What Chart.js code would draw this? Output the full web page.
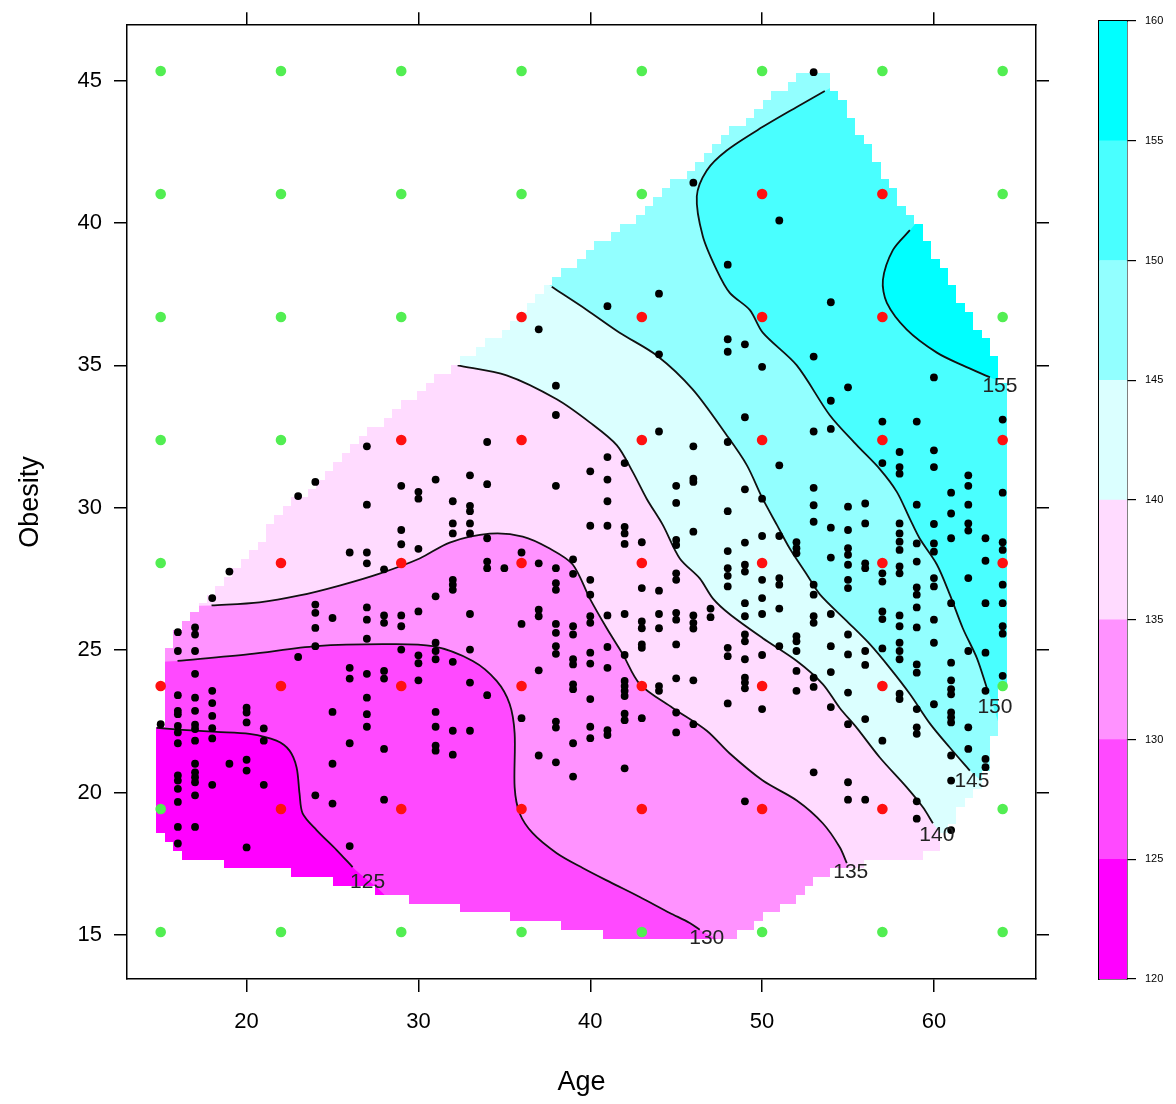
<!DOCTYPE html>
<html><head><meta charset="utf-8">
<script src="https://cdn.jsdelivr.net/npm/chart.js@4.4.1/dist/chart.umd.min.js"></script>
<style>
html,body{margin:0;padding:0;background:#fff;}
#wrap{position:relative;width:1176px;height:1104px;overflow:hidden;}
#main{position:absolute;left:0;top:0;width:1176px;height:1104px;}
#bar{position:absolute;left:1085px;top:0;width:91px;height:1104px;}
</style></head><body>
<div id="wrap"><canvas id="main" width="1176" height="1104"></canvas><canvas id="bar" width="91" height="1104"></canvas></div>
<script>
const FONT = "'Liberation Sans', Arial, Helvetica, sans-serif";
// axes
const xRange = [13.04, 65.94];
const yRange = [13.45, 46.95];
const xTicks = [20, 30, 40, 50, 60];
const yTicks = [15, 20, 25, 30, 35, 40, 45];
// colour key
const barTicks = [120, 125, 130, 135, 140, 145, 150, 155, 160];
const bandColors = ['#FF00FF', '#FF49FF', '#FF92FF', '#FFDBFF', '#DBFFFF', '#92FFFF', '#49FFFF', '#00FFFF'];
const levels = [125, 130, 135, 140, 145, 150, 155];
// evaluation grid
const gridAges = [15, 22, 29, 36, 43, 50, 57, 64];
const gridObes = [15.1, 19.42, 23.74, 28.06, 32.38, 36.7, 41.02, 45.34];
const gridInside = [
  [0,0,0,0,0,0,0,0],
  [0,1,1,1,1,1,1,0],
  [1,1,1,1,1,1,1,0],
  [0,1,1,1,1,1,1,1],
  [0,0,1,1,1,1,1,1],
  [0,0,0,1,1,1,1,0],
  [0,0,0,0,0,1,1,0],
  [0,0,0,0,0,0,0,0]
];
// raster of the fitted surface
const cellX0 = 15, cellDX = 0.49, cellNX = 101;
const cellY0 = 14.7, cellDY = 0.3102;
// convex hull of the observations
const hullAge = [53.0,53.77,55.28,57.26,58.77,60.35,61.68,62.68,63.66,64.01,64.01,63.6,63.14,62.27,61.68,60.17,58.77,56.27,53.94,51.61,49.86,48.7,46.0,42.88,39.97,34.73,30.07,25.99,21.92,19.59,16.68,15.51,14.99,14.99,15.22,15.69,17.67,21.16,25.24,27.74,31.06,34.73,37.47,42.88,47.95,50.45];
const hullObes = [45.45,45.13,43.59,41.46,40.17,38.6,37.09,36.15,35.21,34.3,24.0,22.1,21.02,19.83,19.48,18.08,17.7,17.56,17.21,16.12,15.53,15.0,14.83,14.76,15.11,15.7,16.16,16.75,17.28,17.42,17.7,18.15,18.67,22.27,24.62,25.67,26.71,29.16,31.71,33.0,34.51,36.15,37.85,40.3,43.05,44.4];
// contour lines
const contour125 = [[14.76,22.27],[16.27,22.2],[18.25,22.13],[20.17,22.06],[21.74,21.82],[22.5,21.47],[22.91,20.88],[23.08,19.97],[23.26,19.27],[24.07,18.68],[25.24,17.98],[26.17,17.38]];
const contour130 = [[15.98,24.62],[20.17,24.86],[24.07,25.14],[27.92,25.21],[30.83,25.14],[33.16,24.62],[34.55,23.92],[35.31,23.11],[35.6,22.07],[35.6,20.18],[35.89,19.27],[36.65,18.57],[38.05,17.87],[39.56,17.35],[41.13,16.86],[42.88,16.33],[44.63,15.77],[45.79,15.42],[46.37,15.18]];
const contour135 = [[17.96,26.57],[20.75,26.68],[23.08,26.92],[25.41,27.27],[27.74,27.69],[30.07,28.22],[31.82,28.78],[34.15,29.09],[36.07,28.99],[37.64,28.57],[38.98,28.01],[39.97,26.82],[40.96,25.77],[41.89,24.86],[42.88,23.81],[44.8,22.97],[46.78,22.17],[48.12,21.37],[50.04,20.42],[52.02,19.72],[53.53,18.92],[54.52,18.08],[54.93,17.52]];
const contour140 = [[32.28,35.0],[35.13,34.65],[38.05,33.81],[39.97,33.0],[41.54,32.2],[42.47,31.26],[43.29,30.31],[44.22,29.4],[45.21,28.22],[46.37,27.52],[47.13,26.82],[48.12,26.26],[50.04,25.42],[52.02,24.62],[53.53,23.81],[54.52,22.97],[55.51,22.27],[56.85,21.23],[58.42,20.18],[59.36,19.48],[59.94,18.92]];
const contour145 = [[37.76,37.76],[39.8,36.95],[41.71,36.15],[43.87,35.35],[45.96,34.16],[47.94,32.55],[49.11,31.5],[50.04,30.31],[50.86,29.4],[51.61,28.57],[52.6,27.66],[53.36,26.96],[54.93,26.02],[56.27,25.21],[57.44,24.37],[58.6,23.46],[59.77,22.42],[60.92,21.58],[62.09,20.77]];
const contour150 = [[53.65,44.64],[52.02,44.08],[50.04,43.38],[47.94,42.55],[46.78,41.85],[46.2,40.94],[46.55,39.54],[47.36,38.35],[48.12,37.55],[49.28,36.95],[50.04,36.15],[52.02,35.0],[53.94,33.25],[55.51,32.2],[56.85,31.36],[57.84,30.56],[58.6,29.61],[59.18,28.91],[60.17,28.01],[60.92,26.96],[61.68,25.77],[62.5,24.72],[63.08,23.67]];
const contour155 = [[58.6,39.75],[57.61,39.05],[57.03,38.0],[57.26,37.2],[58.42,36.26],[60.17,35.45],[61.68,35.0],[63.26,34.58]];
// where each contour leaves the hull, and the outer side of each level
const contourStart = [[11,22.3],[11,24.5],[11,26.5],[29.0,35.6],[35.0,39.0],[55.69,45.34],[59.8,40.6]];
const contourEnd = [[28.5,15.88],[48.7,14.2],[55.4,16.75],[60.92,17.97],[64.6,19.2],[65.0,21.12],[65.3,34.23]];
const contourOuter = [
  [[28.5,8],[70,8],[70,52],[11,52]],
  [[48.7,8],[70,8],[70,52],[11,52]],
  [[55.4,8],[70,8],[70,52],[11,52]],
  [[62,8],[70,8],[70,52],[29.0,52]],
  [[65,8],[70,8],[70,52],[35.0,52]],
  [[70,21],[70,52],[55.69,52]],
  [[70,34],[70,52],[59.8,52]]
];
const contourLabelAt = [[27.04,16.86],[46.78,14.9],[55.16,17.21],[60.17,18.5],[62.21,20.39],[63.55,23.01],[63.84,34.26]];
// observations
const ages = [46,48,44,41,37,53,51,54,
27,24,23,29,31,30,30,27,29,29,26,27,27,30,28,19,18,31,
38,44,38,34,44,46,48,48,48,41,42,33,34,38,40,41,45,46,46,41,45,48,32,33,33,32,32,33,33,40,41,42,42,42,43,45,45,46,48,48,48,34,36,34,34,35,37,38,38,38,39,39,40,40,43,44,45,45,32,32,32,48,
49,50,53,55,54,60,49,53,54,57,59,64,51,58,57,58,58,60,60,62,62,61,64,49,50,53,53,53,55,56,56,54,55,59,61,62,58,58,60,62,62,61,63,64,64,49,50,51,52,52,52,54,55,55,55,56,56,57,57,58,58,58,58,59,59,60,60,63,64,62,60,60,59,59,49,49,50,51,51,53,53,55,55,50,
24,24,24,25,27,27,28,28,29,29,30,17,17,16,16,17,24,27,29,31,31,31,30,30,23,17,26,26,27,28,28,30,16,17,18,18,16,16,17,18,20,20,20,25,27,27,27,31,31,15,16,16,17,17,18,18,21,21,16,17,26,28,31,31,17,19,20,20,25,16,16,17,17,17,16,17,18,21,16,24,25,28,16,17,16,20,26,
33,37,37,36,38,38,39,39,40,40,41,42,44,45,45,46,46,46,47,47,43,43,44,33,38,38,40,40,41,42,39,39,41,43,43,45,48,48,32,37,33,34,39,39,42,42,42,42,44,44,45,46,40,48,36,38,38,40,40,41,41,42,42,43,45,46,45,32,33,32,39,37,38,39,42,
49,51,49,50,53,53,54,57,57,58,58,59,59,60,61,63,64,64,64,49,49,51,52,52,52,49,50,54,55,55,56,56,57,58,58,58,59,59,60,61,62,63,64,49,49,49,52,52,53,53,54,54,55,58,58,59,60,61,61,61,61,61,61,62,62,63,63,63,50,55,56,57,59,59,61,61,53,55,55,56,49,59,59,61];
const obesity = [41.42,38.54,37.52,37.08,36.27,45.3,40.09,37.22,
32.16,30.91,30.41,30.77,30.99,30.56,30.32,30.11,29.22,28.72,28.43,28.43,28.05,28.56,27.84,27.76,26.83,26.89,
34.29,35.39,33.26,32.31,32.68,32.16,32.31,35.92,35.48,31.78,31.57,31.14,30.83,30.77,31.28,30.99,30.77,31.02,30.91,30.23,30.17,29.88,30.23,30.07,29.88,29.45,29.1,29.45,29.1,29.37,29.37,29.33,29.1,28.73,28.79,28.87,28.69,29.16,28.48,27.88,27.61,28.93,28.43,28.11,27.88,27.88,28.05,27.88,27.35,27.12,28.19,27.68,27.47,26.95,27.18,27.09,27.7,27.47,27.47,27.3,27.12,27.24,
35.74,34.95,35.31,34.23,33.76,34.58,33.18,32.68,32.77,33.03,33.03,33.1,31.49,31.96,31.57,31.43,31.2,32.02,31.43,31.14,30.77,30.53,30.53,30.65,30.32,30.7,30.09,29.51,30.04,30.15,29.45,29.3,29.22,30.11,29.8,30.11,29.45,29.1,29.43,29.45,29.2,28.93,28.93,28.79,28.52,28.78,29.01,29.01,28.79,28.58,28.4,28.25,28.58,28.35,28.0,28.05,27.88,27.7,27.41,28.81,28.52,27.94,27.7,28.75,28.11,28.75,28.46,28.14,27.3,27.53,27.53,27.24,27.2,26.95,28.0,27.76,27.47,27.53,27.3,27.3,26.95,27.47,27.18,26.83,
26.6,26.31,25.78,26.13,26.5,26.07,26.22,25.96,26.22,25.84,26.36,25.8,25.55,25.63,24.97,24.97,25.14,25.4,25.02,25.26,24.97,24.68,24.82,24.54,24.76,24.17,24.38,24.0,24.17,24.27,24.0,23.94,23.42,23.33,23.57,23.14,22.87,22.75,22.87,22.69,22.98,22.81,22.46,22.83,23.33,22.75,22.31,22.83,22.31,22.4,22.34,22.11,22.38,22.23,22.26,21.9,22.25,21.82,21.73,21.82,21.73,21.53,21.65,21.47,21.01,21.01,21.15,20.77,21.01,20.6,20.42,20.71,20.54,20.36,20.13,19.9,20.27,20.27,19.67,19.9,19.61,19.75,18.79,18.79,18.21,18.07,18.12,
26.27,26.42,26.19,25.92,25.92,25.61,25.84,25.55,26.19,25.96,26.22,26.27,26.27,26.31,26.07,26.22,25.96,25.76,26.46,26.16,26.01,25.77,25.77,25.02,25.14,24.87,24.91,24.53,25.11,24.83,24.68,24.5,24.38,25.2,25.08,25.2,25.08,24.79,24.59,24.29,23.86,23.42,23.8,23.63,23.92,23.74,23.57,23.39,23.74,23.57,24.01,23.94,23.28,23.13,22.61,22.49,22.28,22.31,21.91,22.19,22.02,22.77,22.54,22.61,22.81,22.4,22.11,22.17,22.17,21.33,21.73,21.3,21.06,20.56,20.85,
26.65,26.46,26.19,26.27,26.19,25.96,26.27,26.36,26.09,26.22,25.84,26.5,25.8,26.07,26.65,26.65,26.65,25.84,25.58,25.55,25.31,25.14,25.49,25.31,24.97,24.68,24.83,25.14,25.55,24.85,24.97,24.48,25.06,25.26,24.97,24.68,24.5,24.21,25.26,24.56,24.97,24.91,24.1,24.03,23.86,23.66,24.27,23.57,24.03,23.71,24.23,23.0,23.51,23.47,23.28,22.93,23.1,23.94,23.63,23.45,22.81,22.64,22.46,22.29,21.53,23.57,21.18,20.89,22.93,22.4,22.58,21.82,22.29,22.06,21.3,20.42,20.71,20.36,19.75,19.75,19.69,19.69,19.08,18.68];

Chart.defaults.font.family = FONT;
Chart.defaults.color = '#000';

const toXY = arr => arr.map(p => ({x: p[0], y: p[1]}));
const datasets = [];
// observations (top)
datasets.push({type: 'scatter', data: ages.map((a, i) => ({x: a, y: obesity[i]})), pointRadius: 3.9, pointBackgroundColor: '#000', pointBorderWidth: 0, order: 0});
// evaluation grid
const red = [], green = [];
gridObes.forEach((yv, r) => gridAges.forEach((xv, c) => (gridInside[r][c] ? red : green).push({x: xv, y: yv})));
datasets.push({type: 'scatter', data: red, pointRadius: 5.3, pointBackgroundColor: '#FF1010', pointBorderWidth: 0, order: 1});
datasets.push({type: 'scatter', data: green, pointRadius: 5.3, pointBackgroundColor: '#52EE52', pointBorderWidth: 0, order: 1});
// contour lines
const lines = [contour125, contour130, contour135, contour140, contour145, contour150, contour155];
lines.forEach((ln, k) => datasets.push({type: 'scatter', showLine: true, data: toXY(ln), borderColor: '#111', borderWidth: 1.8, pointRadius: 0, tension: 0.3, fill: false, order: 5, inHull: true}));
// filled bands: base then every superlevel region
datasets.push({type: 'scatter', showLine: true, data: toXY([[8,8],[70,8],[70,52],[8,52]]), backgroundColor: bandColors[0], borderWidth: 0, pointRadius: 0, fill: 'shape', order: 30, inHull: true});
lines.forEach((ln, k) => {
  const poly = [contourStart[k], ...ln, contourEnd[k], ...contourOuter[k]];
  datasets.push({type: 'scatter', showLine: true, data: toXY(poly), backgroundColor: bandColors[k + 1], borderWidth: 0, pointRadius: 0, tension: 0.3, fill: 'shape', order: 29 - k, inHull: true});
});

const hullClip = {
  id: 'hullClip',
  beforeDatasetsDraw(chart) {
    const {ctx} = chart, xs = chart.scales.x, ys = chart.scales.y;
    ctx.save();
    ctx.beginPath();
    const n = hullAge.length;
    for (let i = 0; i < cellNX; i++) {
      const xc = cellX0 + i * cellDX;
      let lo = Infinity, hi = -Infinity;
      for (let k = 0; k < n; k++) {
        const x1 = hullAge[k], y1 = hullObes[k], x2 = hullAge[(k + 1) % n], y2 = hullObes[(k + 1) % n];
        if ((x1 <= xc && xc <= x2) || (x2 <= xc && xc <= x1)) {
          if (x1 === x2) { lo = Math.min(lo, y1, y2); hi = Math.max(hi, y1, y2); }
          else { const yy = y1 + (xc - x1) / (x2 - x1) * (y2 - y1); lo = Math.min(lo, yy); hi = Math.max(hi, yy); }
        }
      }
      if (lo > hi) continue;
      const j0 = Math.ceil((lo - cellY0) / cellDY - 1e-9), j1 = Math.floor((hi - cellY0) / cellDY + 1e-9);
      if (j1 < j0) continue;
      const px0 = Math.round(xs.getPixelForValue(xc - cellDX / 2)), px1 = Math.round(xs.getPixelForValue(xc + cellDX / 2));
      const py0 = Math.round(ys.getPixelForValue(cellY0 + j1 * cellDY + cellDY / 2)), py1 = Math.round(ys.getPixelForValue(cellY0 + j0 * cellDY - cellDY / 2));
      ctx.rect(px0, py0, px1 - px0, py1 - py0);
    }
    ctx.clip();
    chart.$hullClipped = true;
  },
  beforeDatasetDraw(chart, args) {
    if (chart.$hullClipped && !chart.data.datasets[args.index].inHull) { chart.ctx.restore(); chart.$hullClipped = false; }
  },
  afterDatasetsDraw(chart) {
    if (chart.$hullClipped) { chart.ctx.restore(); chart.$hullClipped = false; }
  }
};
const contourLabels = {
  id: 'contourLabels',
  afterDatasetsDraw(chart) {
    const {ctx} = chart, xs = chart.scales.x, ys = chart.scales.y;
    ctx.save();
    ctx.font = '21px ' + FONT;
    ctx.fillStyle = '#222';
    ctx.textAlign = 'center';
    ctx.textBaseline = 'middle';
    levels.forEach((lv, k) => ctx.fillText(String(lv), xs.getPixelForValue(contourLabelAt[k][0]), ys.getPixelForValue(contourLabelAt[k][1])));
    ctx.restore();
  }
};

function axis(pos, range, ticks, labels, size, extra) {
  const horiz = pos === 'top' || pos === 'bottom';
  return Object.assign({
    type: 'linear', position: pos, min: range[0], max: range[1],
    afterBuildTicks: s => { s.ticks = ticks.map(v => ({value: v})); },
    afterFit: s => { if (horiz) s.height = size; else s.width = size; },
    grid: {drawOnChartArea: false, drawTicks: true, tickLength: 13, lineWidth: 1.5, color: '#000'},
    border: {display: true, color: '#000', width: 1.5},
    ticks: {display: labels, font: {size: 22}, color: '#000', padding: horiz ? 17 : 12, maxRotation: 0, autoSkip: false}
  }, extra || {});
}

new Chart(document.getElementById('main'), {
  type: 'scatter',
  data: {datasets},
  options: {
    responsive: false, animation: false, events: [],
    layout: {padding: 0, autoPadding: false},
    plugins: {legend: {display: false}, tooltip: {enabled: false}},
    scales: {
      x: axis('bottom', xRange, xTicks, true, 125, {title: {display: true, text: 'Age', font: {size: 27}, color: '#000', padding: {top: 0, bottom: 5}}}),
      x2: axis('top', xRange, xTicks, false, 21),
      y: axis('left', yRange, yTicks, true, 127, {title: {display: true, text: 'Obesity', font: {size: 27}, color: '#000', padding: {top: 14, bottom: 0}}}),
      y2: axis('right', yRange, yTicks, false, 140)
    }
  },
  plugins: [hullClip, contourLabels]
});

// colour key: one floating bar per band
new Chart(document.getElementById('bar'), {
  type: 'bar',
  data: {
    labels: [''],
    datasets: bandColors.map((c, i) => ({data: [[barTicks[i], barTicks[i + 1]]], backgroundColor: c, borderWidth: 0, barPercentage: 1, categoryPercentage: 1, grouped: false}))
  },
  options: {
    responsive: false, animation: false, events: [],
    layout: {padding: 0, autoPadding: false},
    plugins: {legend: {display: false}, tooltip: {enabled: false}},
    scales: {
      x: {position: 'bottom', offset: true, grid: {display: false}, ticks: {display: false}, border: {display: true, color: '#000', width: 1.5}, afterFit: s => { s.height = 125; }},
      xt: {type: 'category', position: 'top', grid: {display: false}, ticks: {display: false}, border: {display: true, color: '#000', width: 1.5}, afterFit: s => { s.height = 21; }},
      y: {position: 'right', min: 120, max: 160,
        afterBuildTicks: s => { s.ticks = barTicks.map(v => ({value: v})); },
        grid: {drawOnChartArea: false, drawTicks: true, tickLength: 9, lineWidth: 1.2, color: '#000'},
        border: {display: true, color: '#000', width: 1.5},
        ticks: {font: {size: 11}, color: '#000', padding: 9},
        afterFit: s => { s.width = 49; }},
      yl: {type: 'linear', position: 'left', grid: {display: false}, ticks: {display: false}, border: {display: true, color: '#000', width: 1.5}, afterFit: s => { s.width = 14; }}
    }
  }
});
</script>
</body></html>
